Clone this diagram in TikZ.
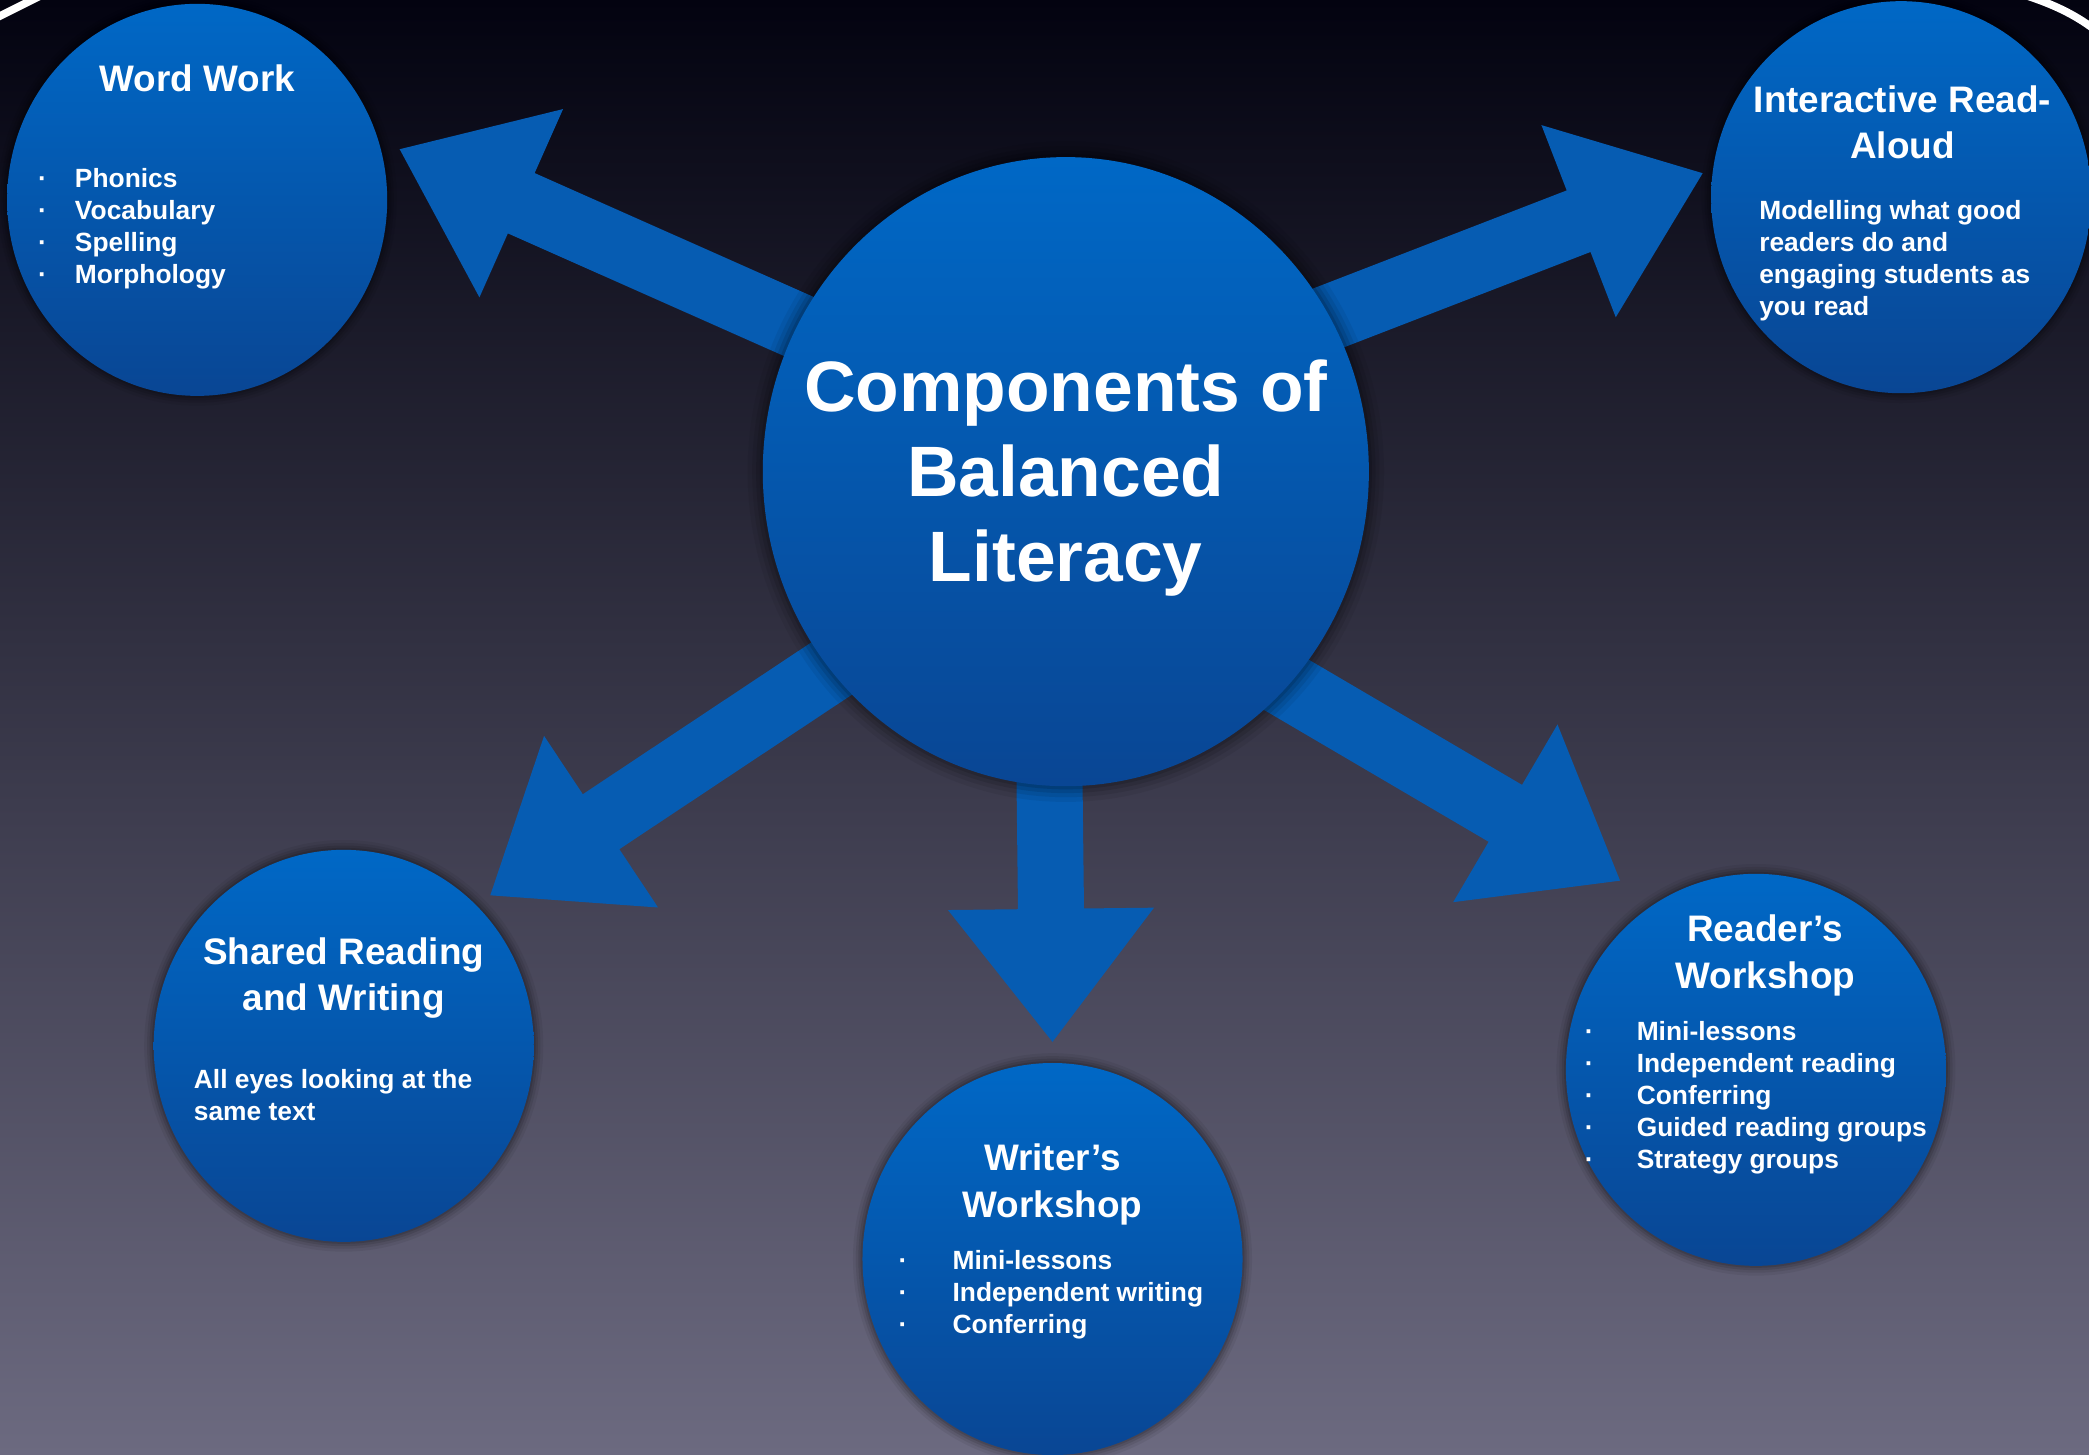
\documentclass[tikz,border=0pt]{standalone}
\usepackage{fontspec}
\setmainfont{Liberation Sans}
\usetikzlibrary{shapes.geometric,shadows,calc}

\definecolor{bubtop}{RGB}{0,104,198}
\definecolor{bubbot}{RGB}{9,70,148}
\definecolor{arrowblue}{RGB}{6,92,178}
\definecolor{bgtop}{RGB}{3,3,16}
\definecolor{bgmid}{RGB}{40,38,68}
\definecolor{bgbot}{RGB}{108,106,128}

% block arrow from foot #1 to tip #2
\newcommand\bigarrow[2]{%
  \path ($(#2)!1.33cm!(#1)$) coordinate (hb);
  \fill[arrowblue] ($(#1)!0.33cm!90:(#2)$) -- ($(hb)!0.33cm!-90:(#1)$) -- ($(hb)!1.03cm!-90:(#1)$) -- (#2)
    -- ($(hb)!1.03cm!90:(#1)$) -- ($(hb)!0.33cm!90:(#1)$) -- ($(#1)!0.33cm!-90:(#2)$) -- cycle;}

\begin{document}
\begin{tikzpicture}[x=0.013323cm, y=-0.013323cm,
    bubble/.style={ellipse, inner sep=0pt, top color=bubtop, bottom color=bubbot,
      minimum width=3.8cm, minimum height=3.92cm,
      general shadow={fill=black, opacity=.06, shadow scale=1.05},
      general shadow={fill=black, opacity=.08, shadow scale=1.035},
      general shadow={fill=black, opacity=.1, shadow scale=1.022},
      general shadow={fill=black, opacity=.12, shadow scale=1.01}},
    title/.style={text=white, font=\fontsize{10.5}{13.2}\selectfont\bfseries, align=center, inner sep=0pt},
    body/.style={text=white, font=\fontsize{7.5}{9.1}\selectfont\bfseries, align=left, inner sep=0pt, anchor=west}]
  \useasboundingbox (0,0) rectangle (1568,1092);
  \clip (0,0) rectangle (1568,1092);
  \shade[top color=bgtop, middle color=bgmid, bottom color=bgbot] (0,0) rectangle (1568,1092);
  \draw[white, line width=2.2pt] (-2,13) -- (30,-3);
  \draw[white, line width=2.2pt] (1522,-3) .. controls (1540,3) and (1556,10) .. (1572,22);

  % arrows
  \coordinate (ulfoot) at (640,263);  \coordinate (ultip) at (300,112);
  \coordinate (urfoot) at (960,253);  \coordinate (urtip) at (1278,130);
  \coordinate (llfoot) at (660,478);  \coordinate (lltip) at (368,672);
  \coordinate (btfoot) at (787,520);  \coordinate (bttip) at (790,782);
  \coordinate (lrfoot) at (940,499);  \coordinate (lrtip) at (1216,661);
  \bigarrow{ulfoot}{ultip}
  \bigarrow{urfoot}{urtip}
  \bigarrow{llfoot}{lltip}
  \bigarrow{btfoot}{bttip}
  \bigarrow{lrfoot}{lrtip}

  \node[bubble, minimum width=6.06cm, minimum height=6.29cm] (hub) at (800,354) {};
  \node[text=white, font=\fontsize{20.3}{24.2}\selectfont\bfseries, align=center, inner sep=0pt] (hubtext) at (800,359) {Components of\\Balanced\\Literacy};

  \node[bubble] (ww) at (148,150) {};
  \node[title] (wwtitle) at (148,59) {Word Work};
  \node[body] (wwbody) at (28,172) {\makebox[0.37cm][l]{·}Phonics\\\makebox[0.37cm][l]{·}Vocabulary\\\makebox[0.37cm][l]{·}Spelling\\\makebox[0.37cm][l]{·}Morphology};

  \node[bubble] (ira) at (1427,148) {};
  \node[title] (iratitle) at (1428,92) {Interactive Read-\\Aloud};
  \node[body] (irabody) at (1320,196) {Modelling what good\\readers do and\\engaging students as\\you read};

  \node[bubble] (srw) at (258,785) {};
  \node[title] (srwtitle) at (258,734) {Shared Reading\\and Writing};
  \node[body] (srwbody) at (145,822) {All eyes looking at the\\same text};

  \node[bubble] (wrw) at (790,945) {};
  \node[title] (wrwtitle) at (790,889) {Writer’s\\Workshop};
  \node[body] (wrwbody) at (674,972) {\makebox[0.54cm][l]{·}Mini-lessons\\\makebox[0.54cm][l]{·}Independent writing\\\makebox[0.54cm][l]{·}Conferring};

  \node[bubble] (rdw) at (1318,803) {};
  \node[title] (rdwtitle) at (1325,717) {Reader’s\\Workshop};
  \node[body] (rdwbody) at (1189,824) {\makebox[0.52cm][l]{·}Mini-lessons\\\makebox[0.52cm][l]{·}Independent reading\\\makebox[0.52cm][l]{·}Conferring\\\makebox[0.52cm][l]{·}Guided reading groups\\\makebox[0.52cm][l]{·}Strategy groups};
\end{tikzpicture}
\end{document}
